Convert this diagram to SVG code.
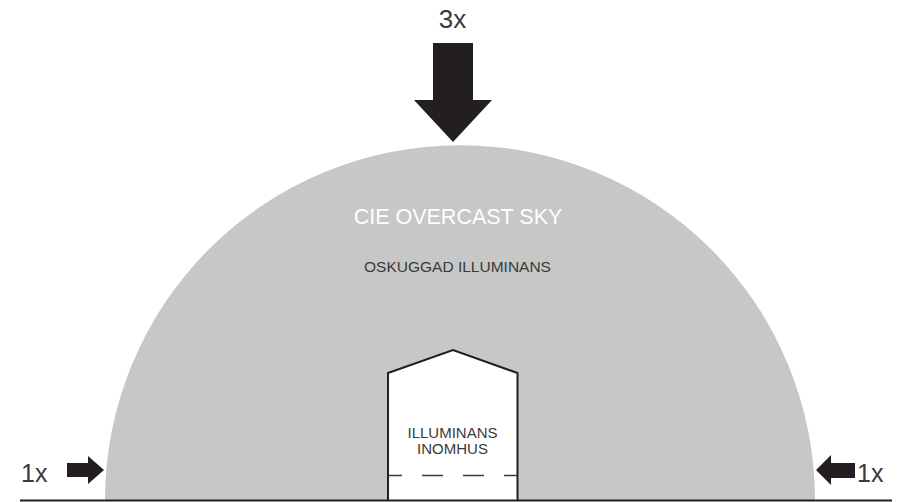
<svg xmlns="http://www.w3.org/2000/svg" width="901" height="502" viewBox="0 0 901 502">
<style>
.lbl{font-family:"Liberation Sans",Arial,sans-serif;fill:#3a3a3a}
.arr{fill:#231f20}
</style>
<rect width="901" height="502" fill="#fff"/>
<g id="sky">
<path d="M105,500 A355,355 0 0 1 815,500 Z" fill="#c6c7c6"/>
<text x="458" y="224" text-anchor="middle" font-family="Liberation Sans, Arial, sans-serif" font-size="21.5" fill="#ffffff">CIE OVERCAST SKY</text>
<text class="lbl" x="457.5" y="271.5" text-anchor="middle" font-size="15.5">OSKUGGAD ILLUMINANS</text>
</g>
<g id="house">
<path d="M388,501 V373 L453,350 L517.5,373 V501" fill="#fff" stroke="#231f20" stroke-width="2"/>
<line x1="389" y1="475.5" x2="517" y2="475.5" stroke="#3a3a3a" stroke-width="1.3" stroke-dasharray="21 20" stroke-dashoffset="8"/>
<text class="lbl" x="452.5" y="438" text-anchor="middle" font-size="15">ILLUMINANS</text>
<text class="lbl" x="452.5" y="453.5" text-anchor="middle" font-size="15">INOMHUS</text>
</g>
<g id="arrows">
<path class="arr" d="M433,43 H473 V100 H492 L453,142 L414,100 H433 Z"/>
<path class="arr" d="M67,463 H88 V456 L104,470 L88,484 V477 H67 Z"/>
<path class="arr" d="M855,463 H831 V455 L816,470 L831,485 V478 H855 Z"/>
</g>
<g id="labels">
<text class="lbl" x="452.5" y="28" text-anchor="middle" font-size="26">3x</text>
<text class="lbl" x="21" y="482" font-size="25">1x</text>
<text class="lbl" x="857" y="482" font-size="25">1x</text>
</g>
<line x1="20" y1="500.5" x2="892" y2="500.5" stroke="#231f20" stroke-width="2.2"/>
</svg>
